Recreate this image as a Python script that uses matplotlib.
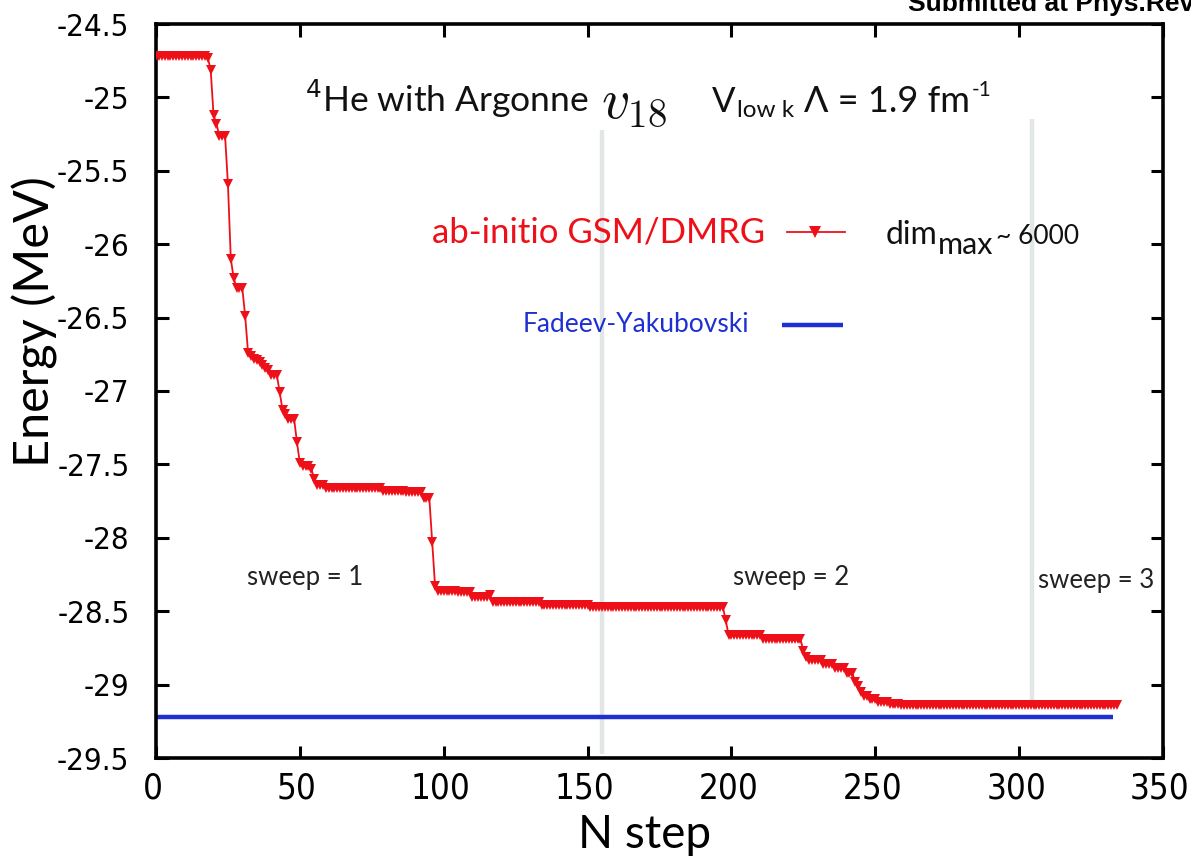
import numpy as np
import matplotlib
matplotlib.use('Agg')
import matplotlib.pyplot as plt
from matplotlib.transforms import ScaledTranslation

# ---- data ----
# DMRG energy per step, as plateau levels (MeV) and number of consecutive steps at that level
levels = [-24.72, -24.73, -24.81, -25.12, -25.18, -25.26, -25.59, -26.10, -26.23, -26.30, -26.49,
          -26.74, -26.76, -26.78, -26.79, -26.80, -26.82, -26.84, -26.86, -26.89,
          -27.01, -27.13, -27.16, -27.19, -27.35, -27.49, -27.51, -27.53, -27.60, -27.64,
          -27.66, -27.68, -27.69, -27.73, -28.03, -28.33, -28.36, -28.37, -28.40, -28.39,
          -28.44, -28.455, -28.47, -28.56, -28.66, -28.69, -28.77, -28.81, -28.83, -28.86,
          -28.89, -28.92, -28.98, -29.01, -29.05, -29.08, -29.10, -29.12, -29.13, -29.14]
counts = [18, 1, 1, 1, 1, 3, 1, 1, 1, 3, 1,
          1, 1, 1, 1, 1, 1, 1, 1, 3,
          1, 1, 1, 3, 1, 1, 3, 1, 1, 3,
          20, 8, 6, 3, 1, 1, 7, 5, 6, 1,
          17, 17, 47, 1, 12, 14, 1, 1, 5, 4,
          4, 3, 1, 1, 1, 2, 3, 4, 4, 76]
fy_energy = -29.22
fy_x_end = 332.7
sweep_positions = [155, 304.5]
sweep_line_tops = [-25.22, -25.15]
sweep_line_bottoms = [-29.47, -29.14]
sweep_labels = ['sweep = 1', 'sweep = 2', 'sweep = 3']
sweep_label_x = [31.6, 200.6, 306.7]
sweep_label_y = [-28.27, -28.27, -28.29]
xticks = [0, 50, 100, 150, 200, 250, 300, 350]
yticks = [-24.5, -25, -25.5, -26, -26.5, -27, -27.5, -28, -28.5, -29, -29.5]

energy = np.repeat(levels, counts)
steps = np.arange(len(energy))

RED = '#ee1018'
BLUE = '#1f30d2'
GREY = '#e2e6e6'
DARK = '#111111'
TXT = 'Lato'

fig = plt.figure(figsize=(11.91, 8.58), dpi=100)
ax = fig.add_axes([156/1191, 1-758/858, (1163-156)/1191, (758-24)/858])

# sweep boundary lines
for xp, yt, yb in zip(sweep_positions, sweep_line_tops, sweep_line_bottoms):
    ax.plot([xp, xp], [yb, yt], color=GREY, lw=3.2, zorder=1, solid_capstyle='butt')

# Fadeev-Yakubovski reference
ax.plot([0, fy_x_end], [fy_energy, fy_energy], color=BLUE, lw=3.2, zorder=2, solid_capstyle='butt')

# DMRG curve
ax.plot(steps, energy, color=RED, lw=1.3, marker='v', markersize=7, markeredgewidth=0,
        zorder=3)

ax.set_xlim(0, 350)
ax.set_ylim(-29.5, -24.5)
ax.set_xticks(xticks)
ax.set_yticks(yticks)
ax.set_xticklabels([str(t) for t in xticks])
ax.set_yticklabels(['%g' % t for t in yticks])
ax.tick_params(direction='in', length=9, width=2.2, top=True, right=True)
ax.tick_params(axis='y', pad=19, labelsize=22.5)
ax.tick_params(axis='x', pad=10, labelsize=25)
for lab in ax.get_xticklabels() + ax.get_yticklabels():
    lab.set_family('DejaVu Sans')
    lab.set_stretch('condensed')
for lab in ax.get_xticklabels():
    lab.set_transform(lab.get_transform() + ScaledTranslation(-3/100, 0, fig.dpi_scale_trans))
for s in ax.spines.values():
    s.set_linewidth(2.6)

ax.set_xlabel('N step', fontsize=33, family=TXT, va='center')
ax.set_ylabel('Energy (MeV)', fontsize=35, family=TXT, va='center')
ax.xaxis.set_label_coords((645-156)/1007, (758-835)/734)
ax.yaxis.set_label_coords((35-156)/1007, 1-(322-24)/734)


def chain(prev, s, y, dx, **kw):
    """Place text s right after the previous text artist (dx points gap), baseline at data y."""
    return ax.annotate(s, xy=(1, y), xycoords=(prev, 'data'), xytext=(dx, 0),
                       textcoords='offset points', ha='left', va='baseline', **kw)


# title-like annotation
base = -25.10
ax.text(51.8, base, '$^{4}$He with Argonne', fontsize=25.5, family=TXT, va='baseline',
        ha='left', color=DARK, math_fontfamily='dejavusans')
ax.text(154.8, base - 0.04, r'$v_{18}$', fontsize=40, va='baseline', ha='left',
        color=DARK, math_fontfamily='cm')
tV = ax.text(193.3, base, 'V', fontsize=25, family=TXT, va='baseline', ha='left', color=DARK)
tl = chain(tV, 'low k', base - 0.035, 1, fontsize=17.5, family=TXT, color=DARK)
tL = chain(tl, '\u039b = 1.9 fm', base, 7, fontsize=26, family=TXT, color=DARK)
chain(tL, '-1', base + 0.11, 1, fontsize=15, family=TXT, color=DARK)

# legend-like entries
ax.text(96.0, -25.92, 'ab-initio GSM/DMRG', fontsize=25, family=TXT, color=RED,
        va='center', ha='left')
ax.plot([219.4, 239.6], [-25.92, -25.92], color=RED, lw=1.3)
ax.plot([229.1], [-25.92], color=RED, marker='v', markersize=8, markeredgewidth=0)
td = ax.text(253.5, -26.0, 'dim', fontsize=23, family=TXT, color=DARK, va='baseline', ha='left')
tm = chain(td, 'max', -26.07, 0.5, fontsize=22, family=TXT, color=DARK)
chain(tm, '~ 6000', -26.0, 2, fontsize=19, family=TXT, color=DARK)

ax.text(127.3, -26.55, 'Fadeev-Yakubovski', fontsize=19, family=TXT, color=BLUE,
        va='center', ha='left')
ax.plot([217.7, 238.9], [-26.55, -26.55], color=BLUE, lw=3.2, solid_capstyle='butt')

for lab, xx, yy in zip(sweep_labels, sweep_label_x, sweep_label_y):
    ax.text(xx, yy, lab, fontsize=18.5, family=TXT, color='#222222', va='center', ha='left')

fig.text(908/1191, 1 - 11/858, 'Submitted at Phys.Rev', fontsize=19, family='Liberation Sans',
         fontweight='bold', ha='left', va='baseline', color='black')

fig.savefig('out.png', dpi=100)
